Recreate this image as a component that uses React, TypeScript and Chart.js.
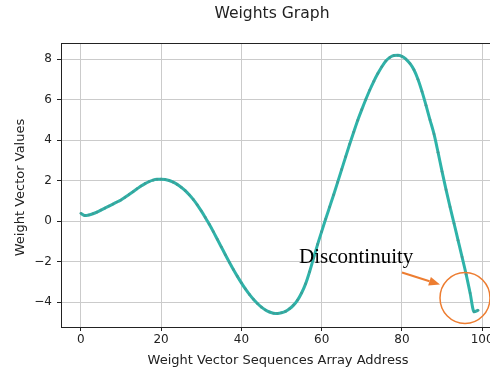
import React, { useEffect, useRef } from "react";
import { Chart, registerables } from "chart.js";

Chart.register(...registerables);

const TITLE = "Weights Graph";
const X_LABEL = "Weight Vector Sequences Array Address";
const Y_LABEL = "Weight Vector Values";
const NOTE = "Discontinuity";

const weights: number[] = [
  0.38, 0.27, 0.3, 0.36, 0.44, 0.54, 0.64, 0.74, 0.84, 0.94,
  1.04, 1.17, 1.31, 1.45, 1.59, 1.73, 1.85, 1.95, 2.02, 2.06,
  2.07, 2.05, 2.0, 1.92, 1.81, 1.67, 1.5, 1.3, 1.07, 0.8,
  0.5, 0.18, -0.16, -0.52, -0.9, -1.28, -1.66, -2.03, -2.39, -2.73,
  -3.05, -3.35, -3.62, -3.86, -4.07, -4.25, -4.39, -4.49, -4.55, -4.56,
  -4.53, -4.46, -4.33, -4.15, -3.9, -3.55, -3.1, -2.5, -1.82, -1.15,
  -0.52, 0.1, 0.7, 1.3, 1.92, 2.55, 3.18, 3.8, 4.4, 4.98,
  5.5, 6.0, 6.47, 6.9, 7.28, 7.62, 7.9, 8.08, 8.17, 8.18,
  8.13, 8.0, 7.78, 7.47, 7.0, 6.4, 5.72, 5.0, 4.3, 3.4,
  2.45, 1.55, 0.7, -0.12, -0.95, -1.78, -2.62, -3.55, -4.48, -4.4,
];

const xTicks = [0, 20, 40, 60, 80, 100];
const yTicks = [-4, -2, 0, 2, 4, 6, 8];

const fmt = (v: number) => (v < 0 ? "\u2212" + Math.abs(v) : String(v));

const CANVAS_W = 530;
const CANVAS_H = 373;
const PLOT_RIGHT = 498;

export default function App() {
  const ref = useRef<HTMLCanvasElement | null>(null);

  useEffect(() => {
    document.body.style.margin = "0";
    const canvas = ref.current!;
    const overlay = {
      id: "overlay",
      afterDraw(chart: any) {
        const ctx = chart.ctx as CanvasRenderingContext2D;
        const a = chart.chartArea;
        ctx.save();
        ctx.strokeStyle = "#222";
        ctx.lineWidth = 1;
        ctx.beginPath();
        ctx.moveTo(a.left, Math.round(a.top) + 0.5);
        ctx.lineTo(a.right, Math.round(a.top) + 0.5);
        ctx.stroke();

        ctx.fillStyle = "#222";
        ctx.textAlign = "center";
        ctx.textBaseline = "alphabetic";
        ctx.font = "15.6px 'DejaVu Sans'";
        ctx.fillText(TITLE, 272, 18);

        ctx.font = "13px 'DejaVu Sans'";
        ctx.fillText(X_LABEL, 278, 363.5);

        ctx.save();
        ctx.translate(24, 187.5);
        ctx.rotate(-Math.PI / 2);
        ctx.fillText(Y_LABEL, 0, 0);
        ctx.restore();

        ctx.fillStyle = "#000";
        ctx.textAlign = "left";
        ctx.font = "21px 'Liberation Serif'";
        ctx.fillText(NOTE, 299, 263);

        const orange = "#ed7d31";
        ctx.strokeStyle = orange;
        ctx.fillStyle = orange;
        ctx.lineWidth = 2;
        const x0 = 402, y0 = 272.5, x1 = 440, y1 = 284.5;
        const ang = Math.atan2(y1 - y0, x1 - x0);
        const hl = 11, hw = 4.5;
        const bx = x1 - hl * Math.cos(ang), by = y1 - hl * Math.sin(ang);
        ctx.beginPath();
        ctx.moveTo(x0, y0);
        ctx.lineTo(bx, by);
        ctx.stroke();
        ctx.beginPath();
        ctx.moveTo(x1, y1);
        ctx.lineTo(bx + hw * Math.sin(ang), by - hw * Math.cos(ang));
        ctx.lineTo(bx - hw * Math.sin(ang), by + hw * Math.cos(ang));
        ctx.closePath();
        ctx.fill();

        ctx.lineWidth = 1.5;
        ctx.beginPath();
        ctx.ellipse(465, 298, 25, 25.5, 0, 0, Math.PI * 2);
        ctx.stroke();
        ctx.restore();
      },
    };

    const chart = new Chart(canvas, {
      type: "line",
      data: {
        datasets: [
          {
            data: weights.map((y, i) => ({ x: i, y })),
            borderColor: "#2eb3a9",
            borderWidth: 3,
            pointRadius: 1.3,
            pointBorderWidth: 0,
            pointBackgroundColor: "#3f9e97",
            cubicInterpolationMode: "monotone",
          },
        ],
      },
      options: {
        animation: false,
        responsive: false,
        devicePixelRatio: 1,
        layout: { padding: { left: 0, top: 43, right: CANVAS_W - PLOT_RIGHT, bottom: 0 } },
        plugins: { legend: { display: false }, tooltip: { enabled: false }, title: { display: false } },
        scales: {
          x: {
            type: "linear",
            min: -4.95,
            max: 103.95,
            afterBuildTicks: (s: any) => {
              s.ticks = xTicks.map((v) => ({ value: v }));
            },
            afterFit: (s: any) => {
              s.height = CANVAS_H - 327;
            },
            grid: { color: "#cbcbcb", lineWidth: 1, tickColor: "#222", tickLength: 4, drawTicks: true },
            border: { display: true, color: "#222", width: 1 },
            ticks: {
              color: "#222",
              font: { family: "'DejaVu Sans'", size: 12 },
              padding: 2,
              maxRotation: 0,
              autoSkip: false,
              callback: (v: any) => fmt(Number(v)),
            },
          },
          y: {
            type: "linear",
            min: -5.23,
            max: 8.79,
            afterBuildTicks: (s: any) => {
              s.ticks = yTicks.map((v) => ({ value: v }));
            },
            afterFit: (s: any) => {
              s.width = 61;
            },
            grid: { color: "#cbcbcb", lineWidth: 1, tickColor: "#222", tickLength: 4, drawTicks: true },
            border: { display: true, color: "#222", width: 1 },
            ticks: {
              color: "#222",
              font: { family: "'DejaVu Sans'", size: 12 },
              padding: 5,
              autoSkip: false,
              callback: (v: any) => fmt(Number(v)),
            },
          },
        },
      },
      plugins: [overlay],
    });
    return () => chart.destroy();
  }, []);

  return (
    <div style={{ position: "absolute", left: 0, top: 0, width: 490, height: 373, overflow: "hidden", background: "#fff" }}>
      <canvas ref={ref} width={CANVAS_W} height={CANVAS_H} style={{ width: CANVAS_W, height: CANVAS_H, display: "block" }} />
    </div>
  );
}
